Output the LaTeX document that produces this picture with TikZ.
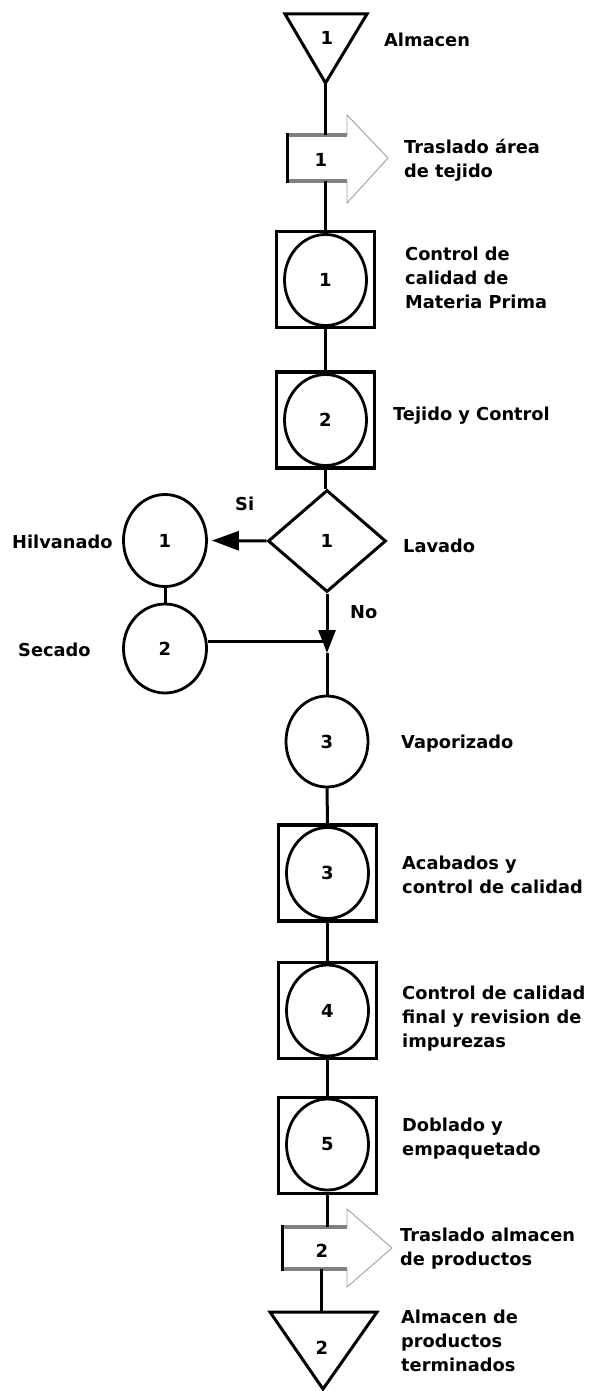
\documentclass[tikz,border=0pt]{standalone}
\usepackage{fontspec}
\setmainfont{DejaVu Sans}
\usetikzlibrary{shapes.geometric,arrows.meta}

\newcommand\lblfont{\bfseries\fontsize{17.8}{24}\selectfont}
\newcommand\numfont{\bfseries\fontsize{18}{20}\selectfont}

\tikzset{
  flow/.style={line width=3pt, black},
  shp/.style={line width=3pt, black, line join=miter},
  opbox/.style={rectangle, draw, line width=3.2pt, minimum width=98pt, minimum height=96pt, inner sep=0pt},
  opcirc/.style={ellipse, draw, line width=2.8pt, minimum width=82pt, minimum height=91pt, inner sep=0pt, font=\numfont},
  decis/.style={diamond, draw, line width=3pt, minimum width=118pt, minimum height=102pt, inner sep=0pt, font=\numfont},
  num/.style={inner sep=0pt, font=\numfont},
  lbl/.style={anchor=north west, align=left, inner sep=0pt, font=\lblfont,
              execute at begin node={\rule{0pt}{14pt}}},
  headline/.style={line width=0.9pt, gray!75},
  bodyedge/.style={line width=3.2pt, color={rgb,255:red,128;green,128;blue,128}},
  tipfill/.style={-{Triangle[length=27pt,width=19pt]}},
  tipdown/.style={-{Triangle[length=23pt,width=17pt]}}
}

\begin{document}
\begin{tikzpicture}[x=1pt,y=-1pt]
\useasboundingbox (0,0) rectangle (592,1391);
\fill[white] (0,0) rectangle (592,1391);

% ---------- storage 1 ----------
\coordinate (t1l) at (285,14);
\coordinate (t1r) at (367,14);
\coordinate (t1c) at (325.5,83);
\draw[shp] (t1l) -- (t1r) -- (t1c) -- cycle;
\node[num] (t1) at (327,38) {1};
\node[lbl] (t1lbl) at (384,32) {Almacen};

% ---------- transport 1 ----------
\coordinate (a1top) at (325.5,135);
\coordinate (a1bot) at (325.5,181);
\draw[headline] (347,135) -- (347,115) -- (388,158) -- (347,203) -- (347,181);
\draw[bodyedge] (287,135) -- (347,135) (287,181) -- (347,181);
\draw[shp] (287,133.4) -- (287,182.6);
\node[num] (a1) at (321,160) {1};
\node[lbl] (a1lbl) at (404,139) {Traslado área\\de tejido};

% ---------- operation/inspection 1 ----------
\node[opbox] (b1) at (325.5,279.5) {};
\node[opcirc] (c1) at (325.5,280) {1};
\node[lbl] (b1lbl) at (405,247) {Control de\\calidad de\\Materia Prima};

% ---------- operation/inspection 2 ----------
\node[opbox] (b2) at (325.5,420) {};
\node[opcirc] (c2) at (325.5,420) {2};
\node[lbl] (b2lbl) at (393,406) {Tejido y Control};

% ---------- decision ----------
\node[decis] (dia) at (327,541) {1};
\node[lbl] (dialbl) at (403,538) {Lavado};
\node[lbl] (si) at (235,496) {Si};
\node[lbl] (no) at (350,604) {No};

% ---------- side branch ----------
\node[opcirc, minimum width=83pt, minimum height=92pt] (hil) at (165,540.5) {1};
\node[lbl] (hillbl) at (12,534) {Hilvanado};
\node[opcirc, minimum width=83pt, minimum height=89pt] (sec) at (165,648.5) {2};
\node[lbl] (seclbl) at (18,642) {Secado};
\coordinate (join) at (327,641);
\coordinate (tipNo) at (327,653);

% ---------- operation 3 ----------
\node[opcirc] (c3) at (327,741.5) {3};
\node[lbl] (c3lbl) at (401,734) {Vaporizado};

% ---------- operation/inspection 3 ----------
\node[opbox] (b3) at (327.5,873) {};
\node[opcirc] (c4) at (327.5,873) {3};
\node[lbl] (b3lbl) at (402,856) {Acabados y\\control de calidad};

% ---------- operation/inspection 4 ----------
\node[opbox] (b4) at (327.5,1010.5) {};
\node[opcirc] (c5) at (327.5,1010.5) {4};
\node[lbl] (b4lbl) at (402,986) {Control de calidad\\final y revision de\\impurezas};

% ---------- operation/inspection 5 ----------
\node[opbox] (b5) at (327.5,1145.5) {};
\node[opcirc] (c6) at (327.5,1144.5) {5};
\node[lbl] (b5lbl) at (402,1118) {Doblado y\\empaquetado};

% ---------- transport 2 ----------
\coordinate (a2top) at (327.5,1227);
\coordinate (a2bot) at (321,1269);
\draw[headline] (347,1227) -- (347,1209) -- (392,1248) -- (347,1287) -- (347,1269);
\draw[bodyedge] (282,1227) -- (347,1227) (282,1269) -- (347,1269);
\draw[shp] (282,1225.4) -- (282,1270.6);
\node[num] (a2) at (322,1251) {2};
\node[lbl] (a2lbl) at (400,1228) {Traslado almacen\\de productos};

% ---------- storage 2 ----------
\coordinate (t2l) at (270,1312);
\coordinate (t2r) at (377,1312);
\coordinate (t2c) at (323,1389);
\draw[shp] (t2l) -- (t2r) -- (t2c) -- cycle;
\coordinate (t2top) at (321,1312);
\node[num] (t2) at (322,1348) {2};
\node[lbl] (t2lbl) at (401,1310) {Almacen de\\productos\\terminados};

% ---------- connectors ----------
\draw[flow] (t1c) -- (a1top);
\draw[flow] (a1bot) -- (b1.north);
\draw[flow] (b1.south) -- (b2.north);
\draw[flow] (b2.south) -- (b2.south |- dia.north);
\draw[flow, tipfill, shorten >=4pt] (dia.west) -- (hil.east);
\draw[flow] (hil.south) -- (sec.north);
\draw[flow] (join -| sec.east) -- (join);
\draw[flow, tipdown] (dia.south) -- (tipNo);
\draw[flow] (tipNo) -- (c3.north);
\draw[flow] (c3.south) -- (b3.north);
\draw[flow] (b3.south) -- (b4.north);
\draw[flow] (b4.south) -- (b5.north);
\draw[flow] (b5.south) -- (a2top);
\draw[flow] (a2bot) -- (t2top);
\end{tikzpicture}
\end{document}
